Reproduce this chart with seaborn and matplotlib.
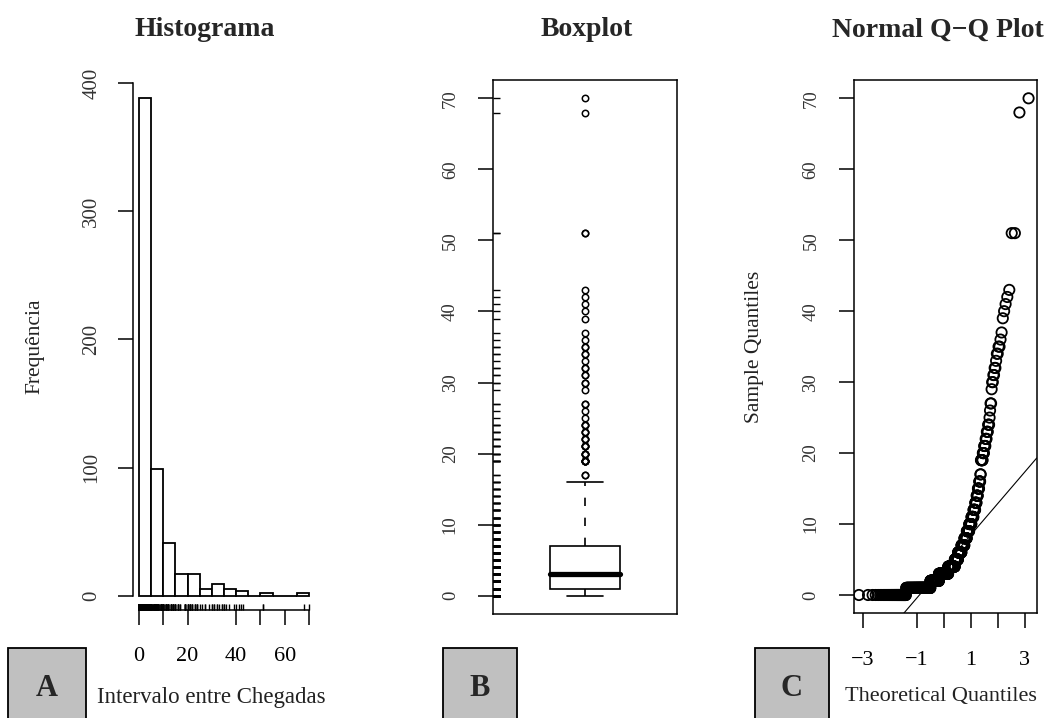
import numpy as np
import pandas as pd
import matplotlib
matplotlib.use("Agg")
import matplotlib.pyplot as plt
from matplotlib.patches import Rectangle
import seaborn as sns
from statistics import NormalDist

# ---- data (frequency table) ----
values = [0, 1, 2, 3, 4, 5, 6, 7, 8, 9, 10, 11, 12, 13, 14, 15, 16, 17, 19, 20,
          21, 22, 23, 24, 25, 26, 27, 29, 30, 31, 32, 33, 34, 35, 36, 37, 39, 40,
          41, 42, 43, 51, 68, 70]
counts = [48, 135, 70, 80, 55, 25, 25, 20, 15, 14, 12, 10, 8, 6, 5, 5, 4, 2, 6, 4,
          4, 3, 3, 3, 1, 1, 2, 1, 2, 2, 2, 1, 2, 2, 1, 1, 1, 1,
          1, 1, 1, 2, 1, 1]
titles = ["Histograma", "Boxplot", "Normal Q\u2212Q Plot"]
panel_letters = ["A", "B", "C"]
hist_xticks = [0, 10, 20, 40, 50, 60, 70]
hist_xlabels = ["0", "", "20", "40", "", "60", ""]
hist_yticks = [0, 100, 200, 300, 400]
val_yticks = [0, 10, 20, 30, 40, 50, 60, 70]
qq_xticks = [-3, -1, 0, 1, 2, 3]
qq_xlabels = ["\u22123", "\u22121", "", "1", "", "3"]

intervals = np.repeat(values, counts).astype(float)
df = pd.DataFrame({"intervalo": intervals})

# ---- style ----
sns.set_theme(style="white")
SERIF = ["Liberation Serif", "DejaVu Serif"]
plt.rcParams["font.family"] = SERIF
plt.rcParams["axes.edgecolor"] = "black"
plt.rcParams["axes.linewidth"] = 1.1
plt.rcParams["xtick.color"] = "black"
plt.rcParams["ytick.color"] = "black"

W, H = 1061, 718
fig = plt.figure(figsize=(W / 100, H / 100), dpi=100)
fig.patch.set_facecolor("white")


def ax_px(left, top, right, bottom):
    return fig.add_axes([left / W, (H - bottom) / H, (right - left) / W, (bottom - top) / H])


def ticks_style(ax, xpad=16, ypad=14, xsize=16, ysize=13.5):
    ax.tick_params(axis="both", direction="out", length=10.8, width=1.1,
                   bottom=True, left=True, top=False, right=False)
    ax.tick_params(axis="x", pad=xpad, labelsize=xsize)
    ax.tick_params(axis="y", pad=ypad, labelsize=ysize)
    for lab in ax.get_yticklabels():
        lab.set_rotation(90)
        lab.set_va("center")
        lab.set_color("#333333")


# ---- A: histogram ----
ax1 = ax_px(133, 76.6, 315, 610)
sns.histplot(data=df, x="intervalo", bins=np.arange(0, 75, 5), stat="count",
             color="white", edgecolor="black", linewidth=1.3, alpha=1, ax=ax1)
sns.rugplot(data=df, x="intervalo", height=0.012, color="black", lw=2.0, ax=ax1, clip_on=False)
ax1.set_xlim(-2.5, 72.5)
ax1.set_ylim(-11, 405)
for s in ["top", "right"]:
    ax1.spines[s].set_visible(False)
ax1.spines["left"].set_bounds(0, 400)
ax1.spines["bottom"].set_bounds(0, 70)
ax1.set_xticks(hist_xticks)
ax1.set_xticklabels(hist_xlabels)
ax1.set_yticks(hist_yticks)
ax1.set_yticklabels([str(v) for v in hist_yticks])
ax1.set_xlabel("")
ax1.set_ylabel("")
ticks_style(ax1, xpad=16, ypad=12, xsize=16, ysize=15)

# ---- B: boxplot ----
ax2 = ax_px(493.3, 80, 676.7, 614)
sns.boxplot(data=df, y="intervalo", ax=ax2, width=0.382, whis=1.5,
            color="white", linecolor="black", linewidth=1.2,
            medianprops=dict(linewidth=3.8, solid_capstyle="round"),
            whiskerprops=dict(linestyle=(0, (5, 7))),
            flierprops=dict(marker="o", markerfacecolor="none",
                            markeredgecolor="black", markersize=4.6, markeredgewidth=1.1))
sns.rugplot(data=df, y="intervalo", height=0.038, color="black", lw=1.5, ax=ax2)
ax2.set_xlim(-0.5, 0.5)
ax2.set_ylim(-2.58, 72.58)
for s in ax2.spines.values():
    s.set_visible(True)
    s.set_color("black")
    s.set_linewidth(1.1)
ax2.set_xticks([])
ax2.set_yticks(val_yticks)
ax2.set_yticklabels([str(v) for v in val_yticks])
ax2.set_xlabel("")
ax2.set_ylabel("")
ticks_style(ax2, ypad=14, ysize=13.5)
# cap (staple) width = half of box width like R
for line in ax2.lines:
    xd = np.asarray(line.get_xdata(), dtype=float)
    yd = np.asarray(line.get_ydata(), dtype=float)
    if len(xd) == 2 and len(yd) == 2 and yd[0] == yd[1] and xd[0] != xd[1] and line.get_linewidth() < 3:
        c = (xd[0] + xd[1]) / 2
        line.set_xdata([c - 0.382 / 4, c + 0.382 / 4])

# ---- C: normal Q-Q plot ----
ax3 = ax_px(854, 80, 1036.7, 613.3)
n = len(intervals)
nd = NormalDist()
sample_q = np.sort(intervals)
theo_q = np.array([nd.inv_cdf((i - 0.5) / n) for i in range(1, n + 1)])
qq = pd.DataFrame({"theoretical": theo_q, "sample": sample_q})
sns.scatterplot(data=qq, x="theoretical", y="sample", ax=ax3, marker="o",
                facecolor="none", edgecolor="black", linewidth=1.3, s=55, legend=False)
q1, q3 = np.quantile(intervals, [0.25, 0.75])
z1, z3 = nd.inv_cdf(0.25), nd.inv_cdf(0.75)
slope = (q3 - q1) / (z3 - z1)
ax3.axline((z1, q1), slope=slope, color="black", lw=0.8)
ax3.set_xlim(-3.32, 3.44)
ax3.set_ylim(-2.58, 72.58)
for s in ax3.spines.values():
    s.set_visible(True)
    s.set_color("black")
    s.set_linewidth(1.1)
ax3.set_xticks(qq_xticks)
ax3.set_xticklabels(qq_xlabels)
ax3.set_yticks(val_yticks)
ax3.set_yticklabels([str(v) for v in val_yticks])
ax3.set_xlabel("")
ax3.set_ylabel("")
ticks_style(ax3, xpad=16, ypad=14, xsize=16, ysize=13.5)


# ---- texts ----
def ftext(x, y, s, **kw):
    fig.text(x / W, (H - y) / H, s, ha="center", va="center", family=SERIF, **kw)


ftext(205, 30, titles[0], fontsize=20, fontweight="bold")
ftext(587, 30, titles[1], fontsize=20, fontweight="bold")
ftext(938, 30, titles[2], fontsize=20, fontweight="bold")
ftext(35, 346, "Frequ\u00eancia", fontsize=15.5, rotation=90, color="#222222")
ftext(755, 347, "Sample Quantiles", fontsize=15.5, rotation=90, color="#222222")
ftext(211, 697, "Intervalo entre Chegadas", fontsize=16.5, color="#222222")
ftext(941, 697, "Theoretical Quantiles", fontsize=16, color="#222222")

# gray letter boxes
for (x0, x1), letter in zip([(8, 86), (443, 517), (755, 829)], panel_letters):
    fig.patches.append(Rectangle(((x0) / W, -0.02), (x1 - x0) / W, (H - 648) / H + 0.02,
                                 transform=fig.transFigure, facecolor="#c0c0c0",
                                 edgecolor="black", linewidth=1.3))
    ftext((x0 + x1) / 2, 688, letter, fontsize=22, fontweight="bold")

fig.savefig("out.png", dpi=100, facecolor="white")
